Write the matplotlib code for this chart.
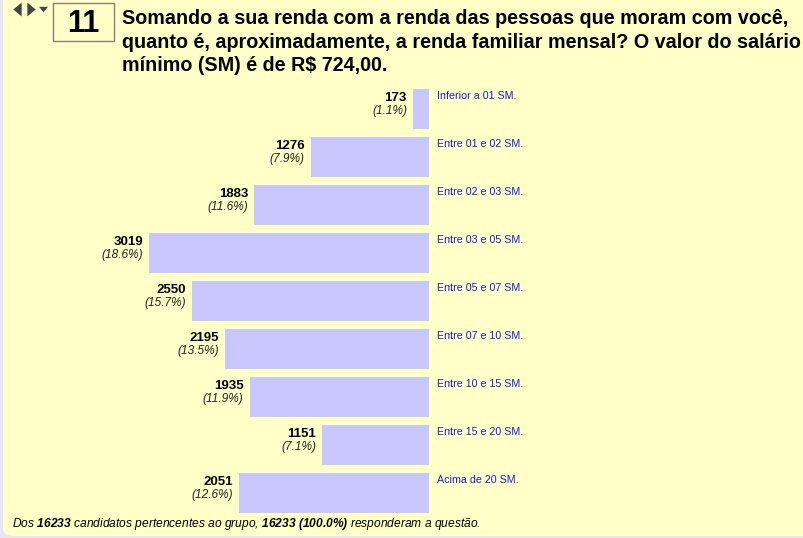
import matplotlib.pyplot as plt
from matplotlib.patches import FancyBboxPatch, Rectangle

plt.rcParams['font.family'] = ['Liberation Sans', 'DejaVu Sans']
plt.rcParams['mathtext.fontset'] = 'custom'
plt.rcParams['mathtext.rm'] = 'Liberation Sans:italic'
plt.rcParams['mathtext.it'] = 'Liberation Sans:italic'
plt.rcParams['mathtext.bf'] = 'Liberation Sans:bold:italic'

categories = ['Inferior a 01 SM.', 'Entre 01 e 02 SM.', 'Entre 02 e 03 SM.',
              'Entre 03 e 05 SM.', 'Entre 05 e 07 SM.', 'Entre 07 e 10 SM.',
              'Entre 10 e 15 SM.', 'Entre 15 e 20 SM.', 'Acima de 20 SM.']
counts = [173, 1276, 1883, 3019, 2550, 2195, 1935, 1151, 2051]
percents = ['1.1%', '7.9%', '11.6%', '18.6%', '15.7%', '13.5%', '11.9%', '7.1%', '12.6%']
total = 16233
answered = 16233
question_no = '11'
title_lines = ['Somando a sua renda com a renda das pessoas que moram com você,',
               'quanto é, aproximadamente, a renda familiar mensal? O valor do salário',
               'mínimo (SM) é de R$ 724,00.']

W, H = 804, 538
fig = plt.figure(figsize=(W / 100, H / 100), dpi=100)
fig.patch.set_facecolor('#e6e6fa')

# yellow panel with rounded corners
panel = FancyBboxPatch((3 / W, 2 / H), 900 / W, 600 / H,
                       boxstyle='round,pad=0,rounding_size=0.014',
                       transform=fig.transFigure, facecolor='#ffffc8',
                       edgecolor='none', zorder=-5)
fig.patches.append(panel)

# px -> figure coords helpers
def fx(px):
    return px / W

def fy(py):
    return 1 - py / H

# header
fig.patches.append(Rectangle((fx(53), fy(41)), 61 / W, 38 / H, transform=fig.transFigure,
                             facecolor='none', edgecolor='#808080', lw=1.0, zorder=-4))
fig.text(fx(83.5), fy(32), question_no, fontsize=22, fontweight='bold',
         ha='center', va='baseline')
for ln, yy in zip(title_lines, [24, 47.5, 71]):
    fig.text(fx(122), fy(yy), ln, fontsize=14.2, fontweight='bold',
             ha='left', va='baseline')

# navigation arrows
nav = fig.add_axes([0, 0, 1, 1], facecolor='none')
nav.set_xlim(0, W)
nav.set_ylim(H, 0)
nav.axis('off')
left_tri = [(0.6, 1), (0.6, -1), (-0.6, 0)]
right_tri = [(-0.6, 1), (-0.6, -1), (0.6, 0)]
down_tri = [(-1, 0.6), (1, 0.6), (0, -0.6)]
nav.plot(17, 9, marker=left_tri, ms=10, color='#444444', mec='none')
nav.plot(31, 9, marker=right_tri, ms=10, color='#444444', mec='none')
nav.plot(43, 9, marker=down_tri, ms=6.5, color='#444444', mec='none')

# bars
s = 280 / 3019  # px per unit
ax = fig.add_axes([0, 0, 1, 1], facecolor='none')
ax.set_xlim(-429 / s, (W - 429) / s)
ax.set_ylim((H - 109) / 48, -109 / 48)
ax.axis('off')
bar_h = 40 / 48
ax.barh(range(len(counts)), [-c for c in counts], height=bar_h, left=0,
        color='#c8c8ff', edgecolor='none')

for i, (c, p, cat) in enumerate(zip(counts, percents, categories)):
    top = i - bar_h / 2
    ax.annotate(str(c), (-c, top), xytext=(-6 * 0.72, -12 * 0.72),
                textcoords='offset points', ha='right', va='baseline',
                fontsize=9.5, fontweight='bold')
    ax.annotate('(' + p + ')', (-c, top), xytext=(-6 * 0.72, -25 * 0.72),
                textcoords='offset points', ha='right', va='baseline',
                fontsize=8.6, fontstyle='italic', color='#222222')
    ax.annotate(cat, (0, top), xytext=(8 * 0.72, -10 * 0.72),
                textcoords='offset points', ha='left', va='baseline',
                fontsize=7.7, color='#1a1ad8')

# footer
pct = answered / total * 100
fig.text(fx(12), fy(527),
         r'Dos $\bf{%d}$ candidatos pertencentes ao grupo, $\bf{%d\ (%.1f\%%)}$ responderam a questão.'
         % (total, answered, pct),
         fontsize=8.65, fontstyle='italic', ha='left', va='baseline')

fig.savefig('out.png', dpi=100, facecolor=fig.get_facecolor())
